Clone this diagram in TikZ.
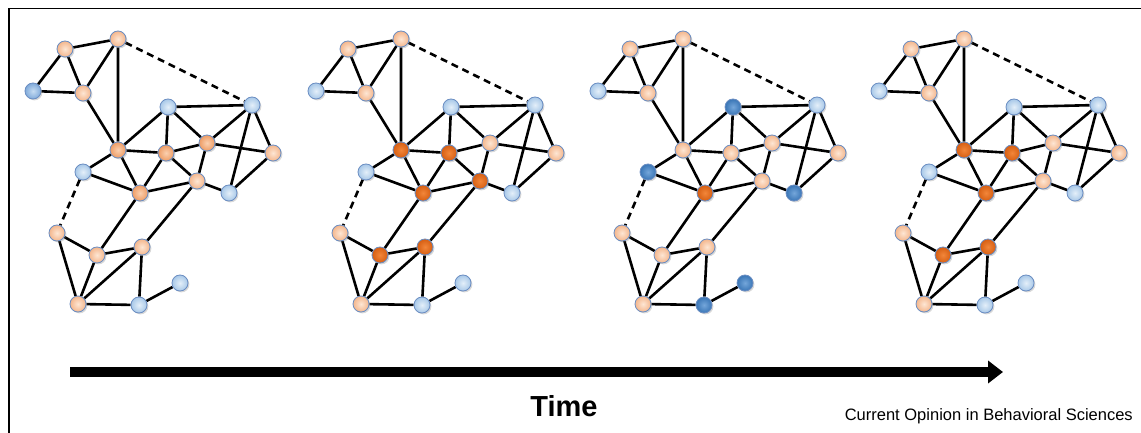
\documentclass[tikz,border=0pt]{standalone}
\usepackage{fontspec}
\setmainfont{Liberation Sans}
\usetikzlibrary{shadows,arrows.meta,backgrounds}

\pgfdeclarelayer{paper}
\pgfsetlayers{paper,background,main}

% node palette (inner / outer colour of the radial shading)
\definecolor{ndline}{HTML}{6A8DC2}
\definecolor{peachA}{HTML}{FDE6D4}
\definecolor{peachB}{HTML}{F4B68C}
\definecolor{morA}{HTML}{FAD0B0}
\definecolor{morB}{HTML}{EE9C64}
\definecolor{dorA}{HTML}{F2863A}
\definecolor{dorB}{HTML}{D65E12}
\definecolor{lbA}{HTML}{E4EFF9}
\definecolor{lbB}{HTML}{A8C8E8}
\definecolor{mbA}{HTML}{C6DCF2}
\definecolor{mbB}{HTML}{80AADA}
\definecolor{dbA}{HTML}{74A6DA}
\definecolor{dbB}{HTML}{3A76B6}

\tikzset{
  nd/.style={circle, minimum size=16pt, inner sep=0pt, draw=ndline, line width=0.8pt,
    drop shadow={shadow xshift=1.4pt, shadow yshift=-1.4pt, opacity=0.3}},
  pe/.style={nd, inner color=peachA, outer color=peachB},
  mor/.style={nd, inner color=morA, outer color=morB},
  dor/.style={nd, inner color=dorA, outer color=dorB},
  lb/.style={nd, inner color=lbA, outer color=lbB},
  mb/.style={nd, inner color=mbA, outer color=mbB},
  db/.style={nd, inner color=dbA, outer color=dbB},
  edge/.style={line width=2.6pt, black},
  dashedge/.style={edge, dash pattern=on 7pt off 5pt},
}

% nodes of one network: #1 name prefix, #2 deep orange, #3 mid orange,
% #4 deep blue, #5 mid blue ("-" for none)
\newcommand\netnodes[5]{%
  \foreach \nm/\x/\y/\base in {A/118/39/pe,B/65/49/pe,C/33/91/lb,D/83/93/pe,
      E/168/107/lb,F/252/105/lb,G/118/150/pe,H/166/153/pe,I/207/143/pe,
      J/273/153/pe,K/83/172/lb,L/140/193/pe,M/197/181/pe,N/229/193/lb,
      O/57/233/pe,P/97/255/pe,Q/142/247/pe,R/180/283/lb,S/78/304/pe,T/139/305/lb}{%
    \xdef\st{\base}%
    \edef\cmpb{\nm}%
    \foreach \h in {#2}{\edef\cmpa{\h}\ifx\cmpa\cmpb\xdef\st{dor}\fi}%
    \foreach \h in {#3}{\edef\cmpa{\h}\ifx\cmpa\cmpb\xdef\st{mor}\fi}%
    \foreach \h in {#4}{\edef\cmpa{\h}\ifx\cmpa\cmpb\xdef\st{db}\fi}%
    \foreach \h in {#5}{\edef\cmpa{\h}\ifx\cmpa\cmpb\xdef\st{mb}\fi}%
    \tikzset{cur/.style/.expanded={\st}}%
    \node[cur] (#1\nm) at (\x,\y) {};
  }%
}

% links of one network, drawn behind the nodes
\newcommand\netedges[1]{%
  \begin{pgfonlayer}{background}
  \draw[edge] (#1A)--(#1B) (#1B)--(#1C) (#1B)--(#1D) (#1C)--(#1D) (#1D)--(#1A)
    (#1A)--(#1G) (#1D)--(#1G) (#1G)--(#1E) (#1G)--(#1H) (#1G)--(#1K) (#1G)--(#1L)
    (#1E)--(#1H) (#1E)--(#1I) (#1E)--(#1F) (#1H)--(#1I) (#1H)--(#1L) (#1H)--(#1M)
    (#1I)--(#1F) (#1I)--(#1J) (#1I)--(#1M) (#1F)--(#1J) (#1F)--(#1N) (#1J)--(#1N)
    (#1M)--(#1N) (#1L)--(#1M) (#1K)--(#1L) (#1L)--(#1P) (#1M)--(#1Q) (#1O)--(#1P)
    (#1O)--(#1S) (#1P)--(#1Q) (#1P)--(#1S) (#1Q)--(#1S) (#1Q)--(#1T) (#1S)--(#1T)
    (#1T)--(#1R);
  \draw[dashedge] (#1A)--(#1F) (#1K)--(#1O);
  \end{pgfonlayer}%
}

\begin{document}
\begin{tikzpicture}[x=1pt, y=-1pt]
  \useasboundingbox (0,0) rectangle (1141,433);
  \begin{pgfonlayer}{paper}
    \fill[white] (0,0) rectangle (1141,433);
  \end{pgfonlayer}

  % frame
  \draw[line width=1.2pt] (1141,8.5) -- (9,8.5) -- (9,433);

  % four snapshots of the same network
  \begin{scope}
    \netnodes{a}{-}{G,H,I,L}{-}{C}
    \netedges{a}
  \end{scope}
  \begin{scope}[xshift=283pt]
    \netnodes{b}{G,H,L,M,P,Q}{-}{-}{-}
    \netedges{b}
  \end{scope}
  \begin{scope}[xshift=565pt]
    \netnodes{c}{L}{-}{E,K,N,R,T}{-}
    \netedges{c}
  \end{scope}
  \begin{scope}[xshift=846pt]
    \netnodes{d}{G,H,L,P,Q}{-}{-}{-}
    \netedges{d}
  \end{scope}

  % time axis
  \coordinate (tstart) at (70,372);
  \coordinate (tend) at (1003,372);
  \draw[line width=10pt, -{Triangle[length=15pt, width=22pt]}] (tstart) -- (tend);
  \node[anchor=base, font=\bfseries\fontsize{29}{33}\selectfont, inner sep=0pt]
    (time) at (564,416) {Time};

  \node[anchor=base east, font=\fontsize{16.5}{18}\selectfont, inner sep=0pt]
    (src) at (1133,420) {Current Opinion in Behavioral Sciences};
\end{tikzpicture}
\end{document}
